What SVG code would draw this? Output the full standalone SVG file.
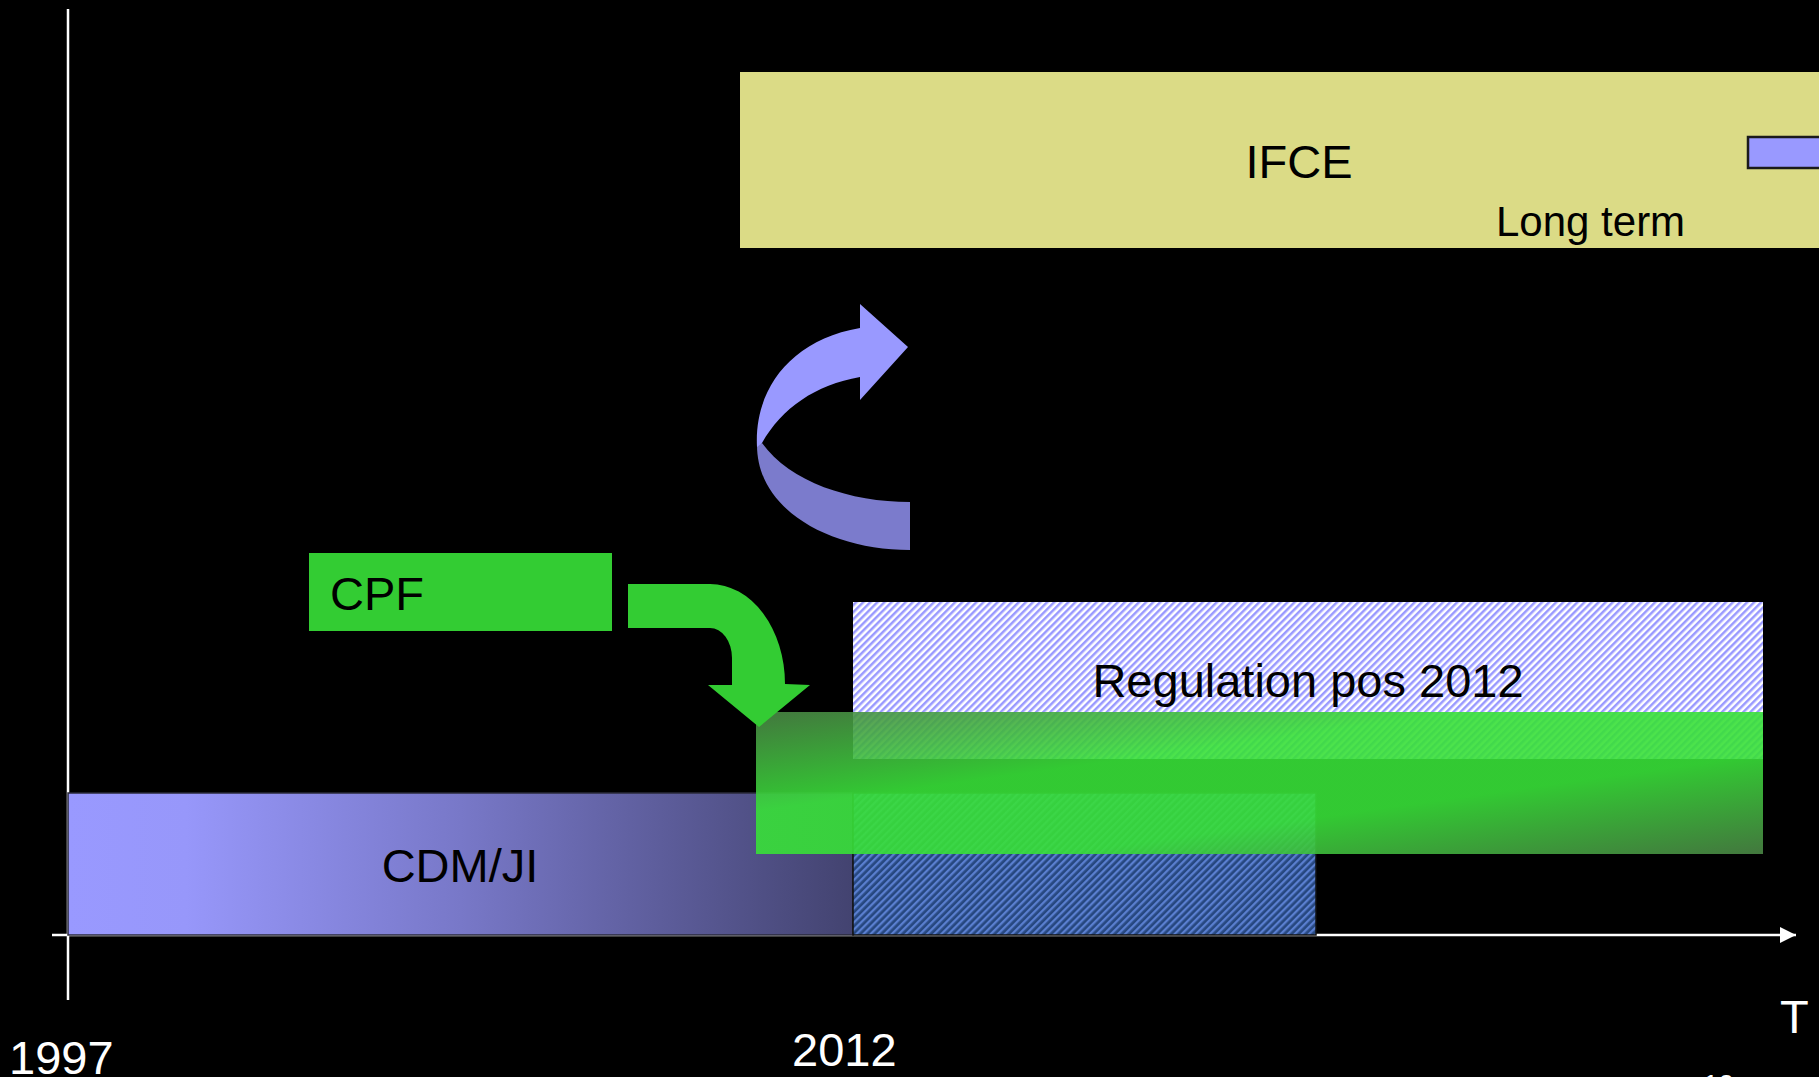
<svg xmlns="http://www.w3.org/2000/svg" width="1819" height="1077" viewBox="0 0 1819 1077">
<style>
  .lbl { font-family: "Liberation Sans", Arial, sans-serif; font-size: 47px; fill: #000; }
  .ax { font-family: "Liberation Sans", Arial, sans-serif; font-size: 47px; fill: #fff; }
  .axis { stroke: #fff; stroke-width: 2.5; fill: none; }
</style>
<defs>
  <linearGradient id="cdmGrad" x1="0" y1="0" x2="1" y2="0">
    <stop offset="0" stop-color="#9999ff"/>
    <stop offset="0.15" stop-color="#9797fa"/>
    <stop offset="0.5" stop-color="#7878c8"/>
    <stop offset="1" stop-color="#434370"/>
  </linearGradient>
  <linearGradient id="bandGrad" x1="0" y1="0" x2="1" y2="1">
    <stop offset="0" stop-color="#4a8545"/>
    <stop offset="0.35" stop-color="#38e038"/>
    <stop offset="0.65" stop-color="#38e038"/>
    <stop offset="1" stop-color="#4a8545"/>
  </linearGradient>
  <pattern id="hatchLight" width="5" height="5" patternUnits="userSpaceOnUse" patternTransform="rotate(-45)">
    <rect width="5" height="5" fill="#ffffff"/>
    <rect width="5" height="2.5" fill="#9999ff"/>
  </pattern>
  <pattern id="hatchDark" width="5" height="5" patternUnits="userSpaceOnUse" patternTransform="rotate(-45)">
    <rect width="5" height="5" fill="#26477f"/>
    <rect width="5" height="2.3" fill="#5a7fd0"/>
  </pattern>
  <marker id="axArrow" markerWidth="16" markerHeight="16" refX="16" refY="8" orient="auto" markerUnits="userSpaceOnUse">
    <path d="M0,0 L16,8 L0,16 Z" fill="#fff"/>
  </marker>
</defs>
<rect width="1819" height="1077" fill="#000"/>

<g id="axes">
  <line class="axis" x1="68" y1="9" x2="68" y2="1000"/>
  <line class="axis" x1="52" y1="935" x2="1796" y2="935" marker-end="url(#axArrow)"/>
  <text class="ax" x="9" y="1074">1997</text>
  <text class="ax" x="792" y="1066">2012</text>
  <text class="ax" x="1780" y="1033">T</text>
  <text class="ax" x="1703" y="1094" style="font-size:28px">10</text>
</g>

<g id="ifce">
  <rect x="740" y="72" width="1120" height="176" fill="#dbdb86"/>
  <text class="lbl" x="1299" y="178" text-anchor="middle">IFCE</text>
  <text class="lbl" x="1496" y="236" style="font-size:42px">Long term</text>
  <rect x="1748" y="137" width="80" height="31" fill="#9999ff" stroke="#1a1a1a" stroke-width="2.5"/>
</g>

<g id="cdm">
  <rect x="68" y="793" width="785" height="142" fill="url(#cdmGrad)" stroke="#2a2a3a" stroke-width="1.5"/>
  <text class="lbl" x="460" y="882" text-anchor="middle">CDM/JI</text>
</g>

<g id="cdm-extension">
  <rect x="853" y="793" width="463" height="142" fill="url(#hatchDark)" stroke="#111" stroke-width="1.5"/>
</g>

<g id="regulation">
  <rect x="853" y="602" width="910" height="157" fill="url(#hatchLight)"/>
  <text class="lbl" x="1308" y="697" text-anchor="middle">Regulation pos 2012</text>
</g>

<g id="cpf-band">
  <rect x="756" y="712" width="1007" height="142" fill="url(#bandGrad)" opacity="0.9"/>
</g>

<g id="cpf">
  <rect x="309" y="553" width="303" height="78" fill="#33cc33"/>
  <text class="lbl" x="330" y="610">CPF</text>
</g>

<g id="connectors">
  <path d="M628,584 L710,584 A75,100 0 0 1 785,684 L810,685 L759,727 L708,685 L732,685 L732,658 A22,30 0 0 0 710,628 L628,628 Z" fill="#33cc33"/>
  <path d="M757,445 C757,510 830,550 910,550 L910,502 C850,502 790,482 762,443 Z" fill="#7b7bcc"/>
  <path d="M757,447 C754,390 790,340 860,328 L860,304 L908,347 L860,400 L860,377 C815,385 782,408 762,443 Z" fill="#9999ff"/>
</g>
</svg>
